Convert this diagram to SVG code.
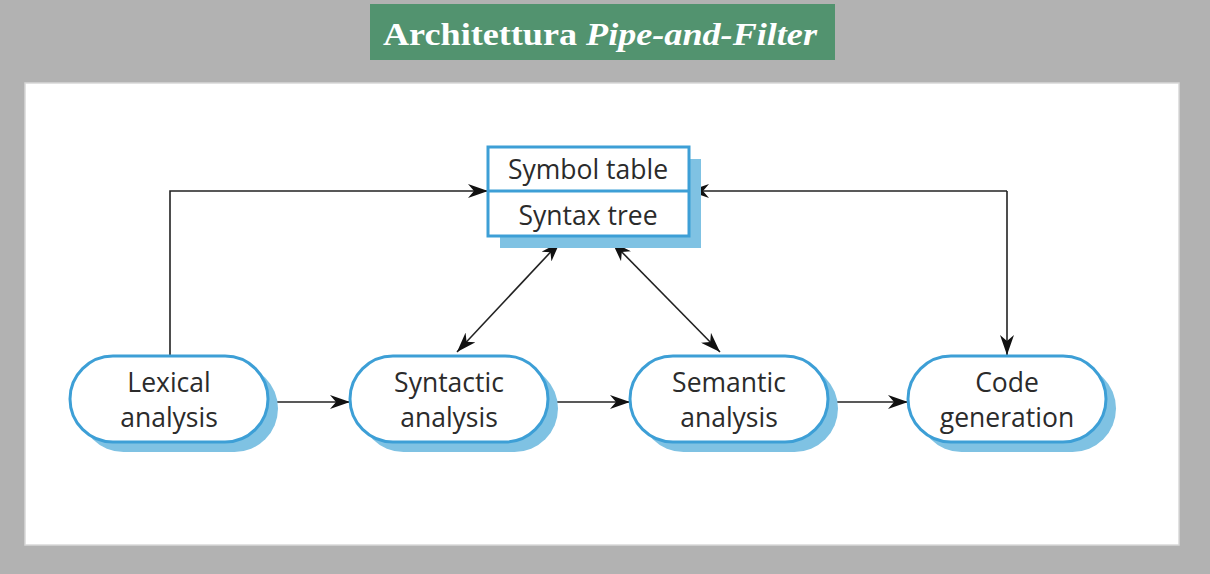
<svg xmlns="http://www.w3.org/2000/svg" width="1210" height="574" viewBox="0 0 1210 574">
<defs>
<style>
.lbl{font-family:"Open Sans","Noto Sans",sans-serif;font-size:26.5px;fill:#2b2b2b;text-anchor:middle}
.node{fill:#fff;stroke:#3d9fd6;stroke-width:3}
.sh{fill:#7fc2e3}
.con{fill:none;stroke:#222;stroke-width:1.6}
</style>
<marker id="ah" viewBox="0 0 20 14" refX="20" refY="7" markerWidth="20" markerHeight="14" markerUnits="userSpaceOnUse" orient="auto-start-reverse">
<path d="M0,0 L20,7 L0,14 L6,7 Z" fill="#111"/>
</marker>
</defs>
<rect width="1210" height="574" fill="#b2b2b2"/>
<rect x="25" y="83" width="1154" height="462" fill="#fff" stroke="#d8d8d8" stroke-width="1.5"/>
<g id="title">
<rect x="370" y="4" width="465" height="56" fill="#52936f"/>
<text x="383" y="45" textLength="434" lengthAdjust="spacingAndGlyphs" font-family="'Liberation Serif',serif" font-weight="bold" font-size="32" fill="#fff">Architettura <tspan font-style="italic">Pipe-and-Filter</tspan></text>
</g>
<g id="connectors">
<polyline class="con" points="170,355 170,191 488,191" marker-end="url(#ah)"/>
<line class="con" x1="1007" y1="191" x2="689" y2="191" marker-end="url(#ah)"/>
<line class="con" x1="1007" y1="191" x2="1007" y2="355" marker-end="url(#ah)"/>
<line class="con" x1="560" y1="242" x2="457" y2="352" marker-start="url(#ah)" marker-end="url(#ah)"/>
<line class="con" x1="612" y1="242" x2="720" y2="352" marker-start="url(#ah)" marker-end="url(#ah)"/>
<line class="con" x1="268" y1="402" x2="350" y2="402" marker-end="url(#ah)"/>
<line class="con" x1="548" y1="402" x2="630" y2="402" marker-end="url(#ah)"/>
<line class="con" x1="828" y1="402" x2="908" y2="402" marker-end="url(#ah)"/>
</g>
<g id="store">
<rect class="sh" x="500" y="159" width="201" height="89"/>
<rect class="node" x="488" y="147" width="201" height="89"/>
<line x1="488" y1="191" x2="689" y2="191" stroke="#3d9fd6" stroke-width="3"/>
<text class="lbl" x="588" y="179">Symbol table</text>
<text class="lbl" x="588" y="225">Syntax tree</text>
</g>
<g id="lexical">
<rect class="sh" x="80" y="365" width="198" height="87" rx="43.5"/>
<rect class="node" x="70" y="356" width="198" height="86" rx="43"/>
<text class="lbl" x="169" y="392">Lexical</text>
<text class="lbl" x="169" y="427">analysis</text>
</g>
<g id="syntactic">
<rect class="sh" x="360" y="365" width="198" height="87" rx="43.5"/>
<rect class="node" x="350" y="356" width="198" height="86" rx="43"/>
<text class="lbl" x="449" y="392">Syntactic</text>
<text class="lbl" x="449" y="427">analysis</text>
</g>
<g id="semantic">
<rect class="sh" x="640" y="365" width="198" height="87" rx="43.5"/>
<rect class="node" x="630" y="356" width="198" height="86" rx="43"/>
<text class="lbl" x="729" y="392">Semantic</text>
<text class="lbl" x="729" y="427">analysis</text>
</g>
<g id="codegen">
<rect class="sh" x="918" y="365" width="198" height="87" rx="43.5"/>
<rect class="node" x="908" y="356" width="198" height="86" rx="43"/>
<text class="lbl" x="1007" y="392">Code</text>
<text class="lbl" x="1007" y="427">generation</text>
</g>
</svg>
